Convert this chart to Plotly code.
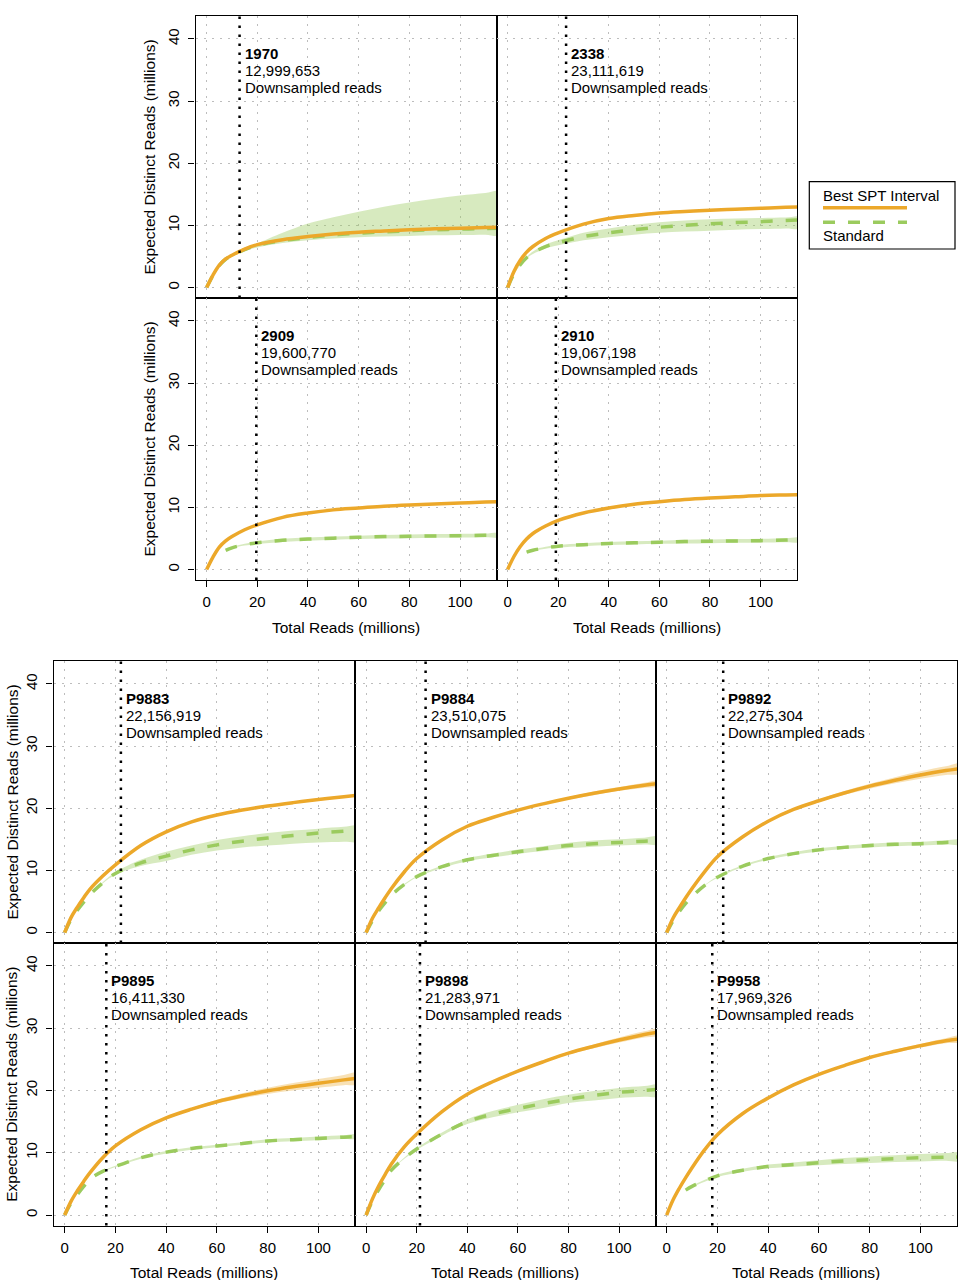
import plotly.graph_objects as go

# ---------------- data (millions of reads) ----------------
X = [0, 2.5, 5, 7.5, 10, 15, 20, 30, 40, 50, 60, 70, 80, 90, 100, 110, 116]

SAMPLES = ["1970", "2338", "2909", "2910", "P9883", "P9884", "P9892", "P9895", "P9898", "P9958"]
DOWNSAMPLED = [12999653, 23111619, 19600770, 19067198, 22156919,
               23510075, 22275304, 16411330, 21283971, 17969326]

X_TICKS = [0, 20, 40, 60, 80, 100]
Y_TICKS = [0, 10, 20, 30, 40]

# Best SPT interval (orange)
SPT_1970 = [0, 2.0, 3.6, 4.6, 5.2, 6.2, 6.9, 7.7, 8.2, 8.6, 8.9, 9.1, 9.3, 9.45, 9.55, 9.65, 9.7]
SPT_2338 = [0, 2.6, 4.4, 5.7, 6.6, 7.9, 8.8, 10.2, 11.1, 11.6, 12.0, 12.25, 12.45, 12.6, 12.75, 12.9, 13.0]
SPT_2909 = [0, 2.0, 3.6, 4.6, 5.3, 6.4, 7.2, 8.4, 9.1, 9.6, 9.9, 10.2, 10.4, 10.55, 10.7, 10.85, 10.9]
SPT_2910 = [0, 2.1, 3.7, 4.9, 5.8, 7.0, 7.9, 9.1, 9.9, 10.5, 10.9, 11.25, 11.5, 11.7, 11.9, 12.0, 12.05]
SPT_P9883 = [0, 2.4, 4.1, 5.6, 7.0, 9.1, 10.9, 14.0, 16.2, 17.8, 18.9, 19.7, 20.35, 20.9, 21.4, 21.85, 22.1]
SPT_P9884 = [0, 2.3, 4.0, 5.6, 7.1, 9.7, 11.9, 14.9, 17.1, 18.5, 19.7, 20.7, 21.6, 22.4, 23.1, 23.7, 24.0]
SPT_P9892 = [0, 2.3, 4.0, 5.6, 7.1, 9.8, 12.2, 15.4, 17.9, 19.8, 21.2, 22.45, 23.55, 24.5, 25.35, 26.05, 26.4]
SPT_P9895 = [0, 2.2, 3.9, 5.4, 6.8, 9.2, 11.1, 13.7, 15.6, 17.0, 18.2, 19.15, 19.95, 20.6, 21.15, 21.7, 22.0]
SPT_P9898 = [0, 2.6, 4.7, 6.5, 8.2, 10.9, 13.0, 16.6, 19.4, 21.4, 23.1, 24.6, 26.0, 27.1, 28.1, 29.0, 29.4]
SPT_P9958 = [0, 2.4, 4.3, 6.0, 7.6, 10.5, 12.9, 16.3, 18.8, 20.9, 22.6, 24.0, 25.3, 26.3, 27.2, 28.0, 28.3]

# orange confidence band (only where visible)
SPT_LO_P9884 = [0, 2.3, 4.0, 5.6, 7.1, 9.7, 11.9, 14.9, 17.1, 18.5, 19.7, 20.6, 21.4, 22.1, 22.8, 23.3, 23.55]
SPT_HI_P9884 = [0, 2.3, 4.0, 5.6, 7.1, 9.7, 11.9, 14.9, 17.1, 18.5, 19.7, 20.8, 21.8, 22.7, 23.4, 24.1, 24.45]
SPT_LO_P9892 = [0, 2.3, 4.0, 5.6, 7.1, 9.8, 12.2, 15.4, 17.9, 19.7, 21.0, 22.15, 23.15, 24.0, 24.75, 25.35, 25.6]
SPT_HI_P9892 = [0, 2.3, 4.0, 5.6, 7.1, 9.8, 12.2, 15.4, 17.9, 19.9, 21.4, 22.75, 23.95, 25.0, 25.95, 26.75, 27.2]
SPT_LO_P9895 = [0, 2.2, 3.9, 5.4, 6.8, 9.2, 11.1, 13.7, 15.5, 16.8, 17.9, 18.75, 19.45, 20.0, 20.45, 20.85, 21.05]
SPT_HI_P9895 = [0, 2.2, 3.9, 5.4, 6.8, 9.2, 11.1, 13.7, 15.7, 17.2, 18.5, 19.55, 20.45, 21.2, 21.85, 22.5, 22.85]
SPT_LO_P9898 = [0, 2.6, 4.7, 6.5, 8.2, 10.9, 13.0, 16.6, 19.4, 21.3, 22.9, 24.4, 25.8, 26.8, 27.7, 28.5, 28.9]
SPT_HI_P9898 = [0, 2.6, 4.7, 6.5, 8.2, 10.9, 13.0, 16.6, 19.4, 21.5, 23.3, 24.8, 26.2, 27.4, 28.5, 29.5, 29.9]
SPT_LO_P9958 = [0, 2.4, 4.3, 6.0, 7.6, 10.5, 12.9, 16.3, 18.8, 20.9, 22.5, 23.9, 25.1, 26.05, 26.9, 27.6, 27.8]
SPT_HI_P9958 = [0, 2.4, 4.3, 6.0, 7.6, 10.5, 12.9, 16.3, 18.8, 20.9, 22.7, 24.1, 25.5, 26.55, 27.5, 28.4, 28.8]

# Standard (green, dashed)
STD_1970 = [0, 1.95, 3.55, 4.55, 5.1, 6.1, 6.8, 7.55, 8.05, 8.45, 8.75, 8.95, 9.15, 9.3, 9.4, 9.5, 9.55]
STD_2338 = [0, 2.2, 3.7, 4.8, 5.6, 6.6, 7.2, 8.2, 8.8, 9.3, 9.7, 10.0, 10.25, 10.45, 10.6, 10.8, 10.9]
STD_2909 = [None, None, None, 3.1, 3.5, 4.0, 4.3, 4.7, 4.9, 5.05, 5.2, 5.3, 5.35, 5.4, 5.45, 5.5, 5.5]
STD_2910 = [None, None, None, 2.8, 3.1, 3.5, 3.75, 4.0, 4.2, 4.3, 4.4, 4.5, 4.55, 4.6, 4.65, 4.75, 4.8]
STD_P9883 = [0, 2.1, 3.6, 4.9, 6.1, 8.0, 9.5, 11.2, 12.3, 13.3, 14.1, 14.7, 15.2, 15.6, 16.0, 16.3, 16.4]
STD_P9884 = [0, 1.9, 3.5, 4.8, 6.0, 7.7, 9.0, 10.6, 11.7, 12.4, 13.0, 13.5, 14.0, 14.3, 14.5, 14.7, 14.8]
STD_P9892 = [0, 1.9, 3.4, 4.7, 5.8, 7.6, 8.9, 10.7, 11.9, 12.7, 13.3, 13.7, 14.0, 14.2, 14.3, 14.5, 14.55]
STD_P9895 = [0, 1.9, 3.3, 4.6, 5.8, 7.0, 7.8, 9.2, 10.1, 10.7, 11.1, 11.5, 11.9, 12.1, 12.3, 12.5, 12.6]
STD_P9898 = [0, 2.3, 4.1, 5.7, 7.2, 9.1, 10.6, 13.0, 15.0, 16.2, 17.1, 17.9, 18.6, 19.2, 19.7, 20.0, 20.2]
STD_P9958 = [None, None, None, 4.0, 4.6, 5.5, 6.3, 7.2, 7.8, 8.1, 8.4, 8.7, 8.9, 9.05, 9.2, 9.3, 9.3]

STD_LO_1970 = [0, 1.9, 3.45, 4.45, 4.95, 5.85, 6.45, 7.15, 7.6, 7.9, 8.1, 8.2, 8.3, 8.4, 8.45, 8.5, 8.5]
STD_HI_1970 = [0, 2.0, 3.65, 4.65, 5.25, 6.35, 7.1, 8.8, 10.3, 11.3, 12.2, 13.0, 13.7, 14.3, 14.8, 15.2, 15.4]
STD_LO_2338 = [0, 2.15, 3.6, 4.7, 5.4, 6.3, 6.8, 7.6, 8.1, 8.5, 8.8, 9.0, 9.15, 9.3, 9.4, 9.5, 9.55]
STD_HI_2338 = [0, 2.25, 3.8, 4.9, 5.8, 6.9, 7.6, 8.8, 9.5, 10.1, 10.5, 10.8, 11.0, 11.1, 11.2, 11.25, 11.3]
STD_LO_2909 = [None, None, None, 3.05, 3.4, 3.85, 4.1, 4.45, 4.65, 4.8, 4.9, 5.0, 5.05, 5.1, 5.15, 5.2, 5.2]
STD_HI_2909 = [None, None, None, 3.15, 3.6, 4.15, 4.5, 4.95, 5.15, 5.3, 5.45, 5.55, 5.65, 5.7, 5.75, 5.8, 5.8]
STD_LO_2910 = [None, None, None, 2.75, 3.0, 3.35, 3.55, 3.75, 3.95, 4.05, 4.15, 4.2, 4.25, 4.3, 4.35, 4.4, 4.45]
STD_HI_2910 = [None, None, None, 2.85, 3.2, 3.65, 3.95, 4.25, 4.45, 4.55, 4.65, 4.8, 4.85, 4.9, 4.95, 5.05, 5.1]
STD_LO_P9883 = [0, 2.1, 3.6, 4.9, 6.1, 7.9, 9.3, 10.7, 11.5, 12.5, 13.2, 13.7, 14.0, 14.3, 14.5, 14.6, 14.7]
STD_HI_P9883 = [0, 2.1, 3.6, 4.9, 6.1, 8.1, 9.7, 11.7, 13.0, 14.0, 14.9, 15.5, 16.0, 16.4, 16.7, 17.0, 17.1]
STD_LO_P9884 = [0, 1.9, 3.5, 4.8, 6.0, 7.6, 8.9, 10.4, 11.45, 12.1, 12.65, 13.1, 13.55, 13.8, 14.0, 14.15, 14.2]
STD_HI_P9884 = [0, 1.9, 3.5, 4.8, 6.0, 7.8, 9.1, 10.8, 11.95, 12.7, 13.35, 13.9, 14.45, 14.8, 15.0, 15.25, 15.4]
STD_LO_P9892 = [0, 1.9, 3.4, 4.7, 5.8, 7.55, 8.8, 10.55, 11.7, 12.5, 13.05, 13.45, 13.7, 13.9, 14.0, 14.15, 14.2]
STD_HI_P9892 = [0, 1.9, 3.4, 4.7, 5.8, 7.65, 9.0, 10.85, 12.1, 12.9, 13.55, 13.95, 14.3, 14.5, 14.6, 14.85, 14.9]
STD_LO_P9895 = [0, 1.9, 3.3, 4.6, 5.8, 6.95, 7.7, 9.05, 9.9, 10.5, 10.9, 11.3, 11.65, 11.85, 12.0, 12.2, 12.3]
STD_HI_P9895 = [0, 1.9, 3.3, 4.6, 5.8, 7.05, 7.9, 9.35, 10.3, 10.9, 11.3, 11.7, 12.15, 12.35, 12.6, 12.8, 12.9]
STD_LO_P9898 = [0, 2.3, 4.1, 5.7, 7.2, 9.0, 10.45, 12.75, 14.6, 15.7, 16.5, 17.2, 18.0, 18.4, 18.8, 19.0, 19.1]
STD_HI_P9898 = [0, 2.3, 4.1, 5.7, 7.2, 9.2, 10.75, 13.25, 15.4, 16.7, 17.7, 18.6, 19.3, 19.9, 20.4, 20.7, 20.9]
STD_LO_P9958 = [None, None, None, 3.95, 4.5, 5.35, 6.1, 6.95, 7.5, 7.75, 8.0, 8.2, 8.35, 8.5, 8.6, 8.7, 8.7]
STD_HI_P9958 = [None, None, None, 4.05, 4.7, 5.65, 6.5, 7.45, 8.1, 8.45, 8.8, 9.15, 9.4, 9.6, 9.8, 9.95, 10.0]

SPT = [SPT_1970, SPT_2338, SPT_2909, SPT_2910, SPT_P9883, SPT_P9884, SPT_P9892, SPT_P9895, SPT_P9898, SPT_P9958]
SPT_LO = [None, None, None, None, None, SPT_LO_P9884, SPT_LO_P9892, SPT_LO_P9895, SPT_LO_P9898, SPT_LO_P9958]
SPT_HI = [None, None, None, None, None, SPT_HI_P9884, SPT_HI_P9892, SPT_HI_P9895, SPT_HI_P9898, SPT_HI_P9958]
STD = [STD_1970, STD_2338, STD_2909, STD_2910, STD_P9883, STD_P9884, STD_P9892, STD_P9895, STD_P9898, STD_P9958]
STD_LO = [STD_LO_1970, STD_LO_2338, STD_LO_2909, STD_LO_2910, STD_LO_P9883, STD_LO_P9884, STD_LO_P9892, STD_LO_P9895, STD_LO_P9898, STD_LO_P9958]
STD_HI = [STD_HI_1970, STD_HI_2338, STD_HI_2909, STD_HI_2910, STD_HI_P9883, STD_HI_P9884, STD_HI_P9892, STD_HI_P9895, STD_HI_P9898, STD_HI_P9958]

# ---------------- layout (pixels) ----------------
W, H = 974, 1280
TOP_X = [(195.5, 496.5), (496.5, 797.0)]
TOP_Y = [(16.0, 298.0), (298.0, 580.0)]
BOT_X = [(53.5, 355.0), (355.0, 655.5), (655.5, 957.0)]
BOT_Y = [(661.0, 943.0), (943.0, 1225.5)]

# (x-pixels, y-pixels, show y axis, show x axis)
PANELS = [
    (TOP_X[0], TOP_Y[0], True, False),
    (TOP_X[1], TOP_Y[0], False, False),
    (TOP_X[0], TOP_Y[1], True, True),
    (TOP_X[1], TOP_Y[1], False, True),
    (BOT_X[0], BOT_Y[0], True, False),
    (BOT_X[1], BOT_Y[0], False, False),
    (BOT_X[2], BOT_Y[0], False, False),
    (BOT_X[0], BOT_Y[1], True, True),
    (BOT_X[1], BOT_Y[1], False, True),
    (BOT_X[2], BOT_Y[1], False, True),
]

ORANGE = "#ECA82A"
ORANGE_BAND = "rgba(236,168,42,0.35)"
GREEN = "#9BCB5E"
GREEN_BAND = "rgba(155,203,94,0.40)"
FONT = "Liberation Sans, Arial, Helvetica, sans-serif"
XR = [-4.4, 114.4]
YR = [-1.68, 43.68]
LABEL_Y = [37.63, 34.9, 32.17]


def px_x(p):
    return p / W


def px_y(p):
    return 1 - p / H


def band_polygon(xs, lo, hi):
    pts = [(x, l, h) for x, l, h in zip(xs, lo, hi) if l is not None and h is not None]
    bx = [p[0] for p in pts] + [p[0] for p in reversed(pts)]
    by = [p[2] for p in pts] + [p[1] for p in reversed(pts)]
    return bx, by


fig = go.Figure()
shapes = []
annotations = []

for i, (xp, yp, showy, showx) in enumerate(PANELS):
    n = "" if i == 0 else str(i + 1)
    xa, ya = "x" + n, "y" + n
    # bands
    bx, by = band_polygon(X, STD_LO[i], STD_HI[i])
    fig.add_trace(go.Scatter(x=bx, y=by, xaxis=xa, yaxis=ya, fill="toself",
                             fillcolor=GREEN_BAND, line=dict(width=0, shape="spline"),
                             mode="lines", hoverinfo="skip", showlegend=False))
    if SPT_LO[i] is not None:
        bx, by = band_polygon(X, SPT_LO[i], SPT_HI[i])
        fig.add_trace(go.Scatter(x=bx, y=by, xaxis=xa, yaxis=ya, fill="toself",
                                 fillcolor=ORANGE_BAND, line=dict(width=0, shape="spline"),
                                 mode="lines", hoverinfo="skip", showlegend=False))
    # curves
    fig.add_trace(go.Scatter(x=X, y=STD[i], xaxis=xa, yaxis=ya, mode="lines",
                             line=dict(color=GREEN, width=3.5, dash="12px,13px", shape="spline"),
                             name="Standard", showlegend=False))
    fig.add_trace(go.Scatter(x=X, y=SPT[i], xaxis=xa, yaxis=ya, mode="lines",
                             line=dict(color=ORANGE, width=3.5, shape="spline"),
                             name="Best SPT Interval", showlegend=False))

    common = dict(showline=True, mirror=True, linecolor="black", linewidth=1.2,
                  zeroline=False, showgrid=True, gridcolor="#bdbdbd", gridwidth=1,
                  griddash="2px,6px", tickfont=dict(size=15, color="black", family=FONT),
                  ticklen=6, tickcolor="black", tickwidth=1)
    fig.layout["xaxis" + n] = dict(
        common, domain=[px_x(xp[0]), px_x(xp[1])], range=XR, anchor=ya,
        tickvals=X_TICKS, ticks="outside" if showx else "", showticklabels=showx,
        ticklabelstandoff=2)
    fig.layout["yaxis" + n] = dict(
        common, domain=[px_y(yp[1]), px_y(yp[0])], range=YR, anchor=xa,
        tickvals=Y_TICKS, ticks="outside" if showy else "", showticklabels=showy,
        tickangle=-90, ticklabelstandoff=3)

    # downsampled reads marker
    ds = DOWNSAMPLED[i] / 1e6
    shapes.append(dict(type="line", xref=xa, yref=ya + " domain", x0=ds, x1=ds, y0=0, y1=1,
                       line=dict(color="black", width=2.5, dash="2.5px,6.5px")))
    lines = ["<b>%s</b>" % SAMPLES[i], "{:,}".format(DOWNSAMPLED[i]), "Downsampled reads"]
    for txt, yv in zip(lines, LABEL_Y):
        annotations.append(dict(x=ds, y=yv, xref=xa, yref=ya, text=txt, showarrow=False,
                                xanchor="left", yanchor="middle", xshift=4, borderpad=0,
                                font=dict(size=15, color="black", family=FONT)))

    if showy:
        annotations.append(dict(x=px_x(xp[0] - 47 if i < 4 else xp[0] - 42),
                                y=px_y((yp[0] + yp[1]) / 2), xref="paper", yref="paper",
                                text="Expected Distinct Reads (millions)", textangle=-90,
                                showarrow=False, xanchor="center", yanchor="middle",
                                font=dict(size=15.5, color="black", family=FONT)))
    if showx:
        annotations.append(dict(x=px_x((xp[0] + xp[1]) / 2), y=px_y(yp[1] + 47),
                                xref="paper", yref="paper", text="Total Reads (millions)",
                                showarrow=False, xanchor="center", yanchor="middle",
                                font=dict(size=15.5, color="black", family=FONT)))

# ---------------- legend box ----------------
LX0, LX1, LY0, LY1 = 809.3, 955.0, 181.7, 249.0
shapes.append(dict(type="rect", xref="paper", yref="paper", x0=px_x(LX0), x1=px_x(LX1),
                   y0=px_y(LY1), y1=px_y(LY0), line=dict(color="black", width=1.2),
                   fillcolor="white"))
shapes.append(dict(type="line", xref="paper", yref="paper", x0=px_x(823), x1=px_x(907),
                   y0=px_y(207.7), y1=px_y(207.7), line=dict(color=ORANGE, width=3.5)))
shapes.append(dict(type="line", xref="paper", yref="paper", x0=px_x(823), x1=px_x(907),
                   y0=px_y(222.3), y1=px_y(222.3),
                   line=dict(color=GREEN, width=3.5, dash="12px,13px")))
annotations.append(dict(x=px_x(821), y=px_y(195), xref="paper", yref="paper",
                        text="Best SPT Interval", showarrow=False, xanchor="left",
                        yanchor="middle", font=dict(size=15, color="black", family=FONT)))
annotations.append(dict(x=px_x(821), y=px_y(235.7), xref="paper", yref="paper",
                        text="Standard", showarrow=False, xanchor="left",
                        yanchor="middle", font=dict(size=15, color="black", family=FONT)))

fig.update_layout(
    width=W, height=H, margin=dict(l=0, r=0, t=0, b=0),
    paper_bgcolor="white", plot_bgcolor="white", template="none",
    font=dict(family=FONT, color="black", size=15),
    showlegend=False, shapes=shapes, annotations=annotations,
)

fig.write_html("out.html")
